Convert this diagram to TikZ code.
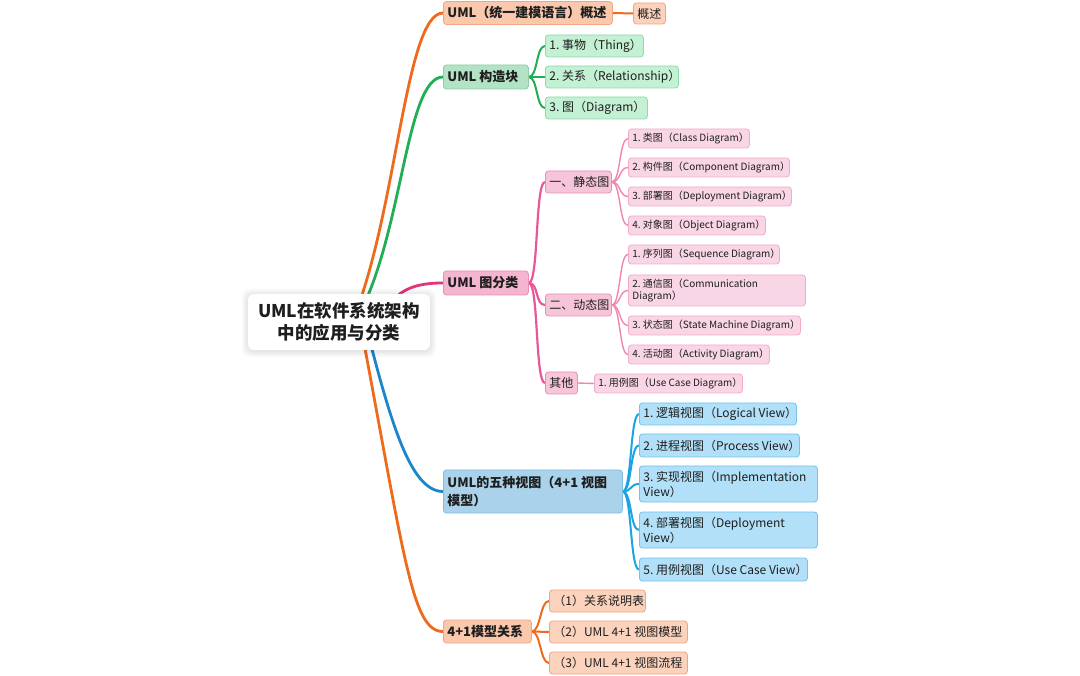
\documentclass[tikz,border=0pt]{standalone}
\usepackage{fontspec}
\setmainfont{Noto Sans CJK SC}
\definecolor{txt}{HTML}{1E1E1E}
\definecolor{orL}{HTML}{EE6A1C}
\definecolor{orF}{HTML}{F9C8AD}
\definecolor{orD}{HTML}{F2A57F}
\definecolor{orC}{HTML}{FBD2BC}
\definecolor{grL}{HTML}{22AE55}
\definecolor{grF}{HTML}{B3E2C4}
\definecolor{grD}{HTML}{8ACFA5}
\definecolor{grC}{HTML}{C4F0D4}
\definecolor{grCD}{HTML}{8EDCAD}
\definecolor{pkL}{HTML}{E2357C}
\definecolor{pk2L}{HTML}{E8579A}
\definecolor{pk3L}{HTML}{EF86B2}
\definecolor{pkF}{HTML}{F3B5CF}
\definecolor{pkD}{HTML}{EC8EB6}
\definecolor{pk2F}{HTML}{F6C5DA}
\definecolor{pk3F}{HTML}{F9D6E5}
\definecolor{pk3D}{HTML}{F3AACB}
\definecolor{blL}{HTML}{1B86CC}
\definecolor{blCL}{HTML}{1CA3E3}
\definecolor{blF}{HTML}{AAD3EB}
\definecolor{blD}{HTML}{7FBDE3}
\definecolor{blCF}{HTML}{B1E0F8}
\definecolor{blCD}{HTML}{6FC5EE}
\newcommand\mylbl[2]{\makebox[#1pt][l]{#2}}
\pgfdeclarelayer{bgl}
\pgfdeclarelayer{lines}
\pgfdeclarelayer{shade}
\pgfsetlayers{bgl,lines,shade,main}
\tikzset{
  base/.style={rounded corners=3pt, line width=0.8pt, inner xsep=4pt, inner ysep=0pt, anchor=west, text=txt, align=left},
  L1/.style={base, font=\fontsize{13}{18}\selectfont\bfseries},
  ch/.style={base, font=\fontsize{12}{15}\selectfont},
  sm/.style={base, font=\fontsize{10}{12.5}\selectfont},
  rootbox/.style={rounded corners=6pt, fill=white, draw=none, minimum width=182pt, minimum height=56pt, align=center, text=txt,
    font=\fontsize{17.5}{22}\selectfont\bfseries},
  shadowstep/.style={fill=black, opacity=0.014, rounded corners=8pt},
  trunk/.style={line width=2.8pt},
  twig/.style={line width=2pt},
  leaf/.style={line width=1.4pt}
}
\begin{document}
\frenchspacing
\begin{tikzpicture}[x=1pt,y=-1pt]
\useasboundingbox (0,0) rectangle (1080,676);
\begin{pgfonlayer}{bgl}
\fill[white] (0,0) rectangle (1080,676);
\end{pgfonlayer}

% root
\node[rootbox] (root) at (339,322) {UML在软件系统架构\\中的应用与分类};
\begin{pgfonlayer}{shade}
\foreach \i in {1,...,6}
  \fill[shadowstep] ([xshift=-\i pt, yshift=-\i pt-1pt]root.south west) rectangle ([xshift=\i pt, yshift=\i pt-1pt]root.north east);
\end{pgfonlayer}

% level 1
\node[L1, fill=orF, draw=orD, minimum height=23pt] (n1) at (443,13) {\mylbl{161}{UML（统一建模语言）概述}};
\node[L1, fill=grF, draw=grD, minimum height=24pt] (n2) at (443,77) {\mylbl{77}{UML 构造块}};
\node[L1, fill=pkF, draw=pkD, minimum height=24pt] (n3) at (443,283) {\mylbl{77}{UML 图分类}};
\node[L1, fill=blF, draw=blD, minimum height=43pt] (n4) at (443,491.5) {\mylbl{171}{UML的五种视图（4+1 视图}\\\mylbl{171}{模型）}};
\node[L1, fill=orF, draw=orD, minimum height=23pt] (n5) at (443,631.5) {\mylbl{80}{4+1模型关系}};

% orange 1 child
\node[ch, fill=orC, draw=orD, minimum height=21pt] (n1a) at (633,13.5) {\mylbl{24}{概述}};

% green children
\node[ch, fill=grC, draw=grCD, minimum height=22pt] (g1) at (545,46) {\mylbl{90}{1. 事物（Thing）}};
\node[ch, fill=grC, draw=grCD, minimum height=22pt] (g2) at (545,77) {\mylbl{125}{2. 关系（Relationship）}};
\node[ch, fill=grC, draw=grCD, minimum height=22pt] (g3) at (545,108) {\mylbl{94}{3. 图（Diagram）}};

% pink level 2
\node[ch, fill=pk2F, draw=pkD, minimum height=22pt] (ps) at (545,182) {\mylbl{58}{一、静态图}};
\node[ch, fill=pk2F, draw=pkD, minimum height=22pt] (pd) at (545,305) {\mylbl{58}{二、动态图}};
\node[ch, fill=pk2F, draw=pkD, minimum height=22pt] (po) at (545,383) {\mylbl{24}{其他}};

% pink level 3
\node[sm, fill=pk3F, draw=pk3D, minimum height=19pt] (s1) at (628,138.5) {\mylbl{113}{1. 类图（Class Diagram）}};
\node[sm, fill=pk3F, draw=pk3D, minimum height=19pt] (s2) at (628,167.5) {\mylbl{153}{2. 构件图（Component Diagram）}};
\node[sm, fill=pk3F, draw=pk3D, minimum height=19pt] (s3) at (628,196.5) {\mylbl{155}{3. 部署图（Deployment Diagram）}};
\node[sm, fill=pk3F, draw=pk3D, minimum height=19pt] (s4) at (628,225.5) {\mylbl{129}{4. 对象图（Object Diagram）}};
\node[sm, fill=pk3F, draw=pk3D, minimum height=19pt] (d1) at (628,254.5) {\mylbl{143}{1. 序列图（Sequence Diagram）}};
\node[sm, fill=pk3F, draw=pk3D, minimum height=31pt] (d2) at (628,290.5) {\mylbl{169}{2. 通信图（Communication}\\\mylbl{169}{Diagram）}};
\node[sm, fill=pk3F, draw=pk3D, minimum height=19pt] (d3) at (628,325.5) {\mylbl{164}{3. 状态图（State Machine Diagram）}};
\node[sm, fill=pk3F, draw=pk3D, minimum height=19pt] (d4) at (628,354.5) {\mylbl{133}{4. 活动图（Activity Diagram）}};
\node[sm, fill=pk3F, draw=pk3D, minimum height=19pt] (o1) at (594,383.5) {\mylbl{140}{1. 用例图（Use Case Diagram）}};

% blue children
\node[ch, fill=blCF, draw=blCD, minimum height=22pt] (b1) at (639,414) {\mylbl{149}{1. 逻辑视图（Logical View）}};
\node[ch, fill=blCF, draw=blCD, minimum height=23pt] (b2) at (639,445.5) {\mylbl{152}{2. 进程视图（Process View）}};
\node[ch, fill=blCF, draw=blCD, minimum height=36pt] (b3) at (639,484) {\mylbl{170}{3. 实现视图（Implementation}\\\mylbl{170}{View）}};
\node[ch, fill=blCF, draw=blCD, minimum height=36pt] (b4) at (639,530) {\mylbl{170}{4. 部署视图（Deployment}\\\mylbl{170}{View）}};
\node[ch, fill=blCF, draw=blCD, minimum height=23pt] (b5) at (639,569.5) {\mylbl{160}{5. 用例视图（Use Case View）}};

% orange bottom children
\node[ch, fill=orC, draw=orD, minimum height=22pt] (r1) at (549,601) {\mylbl{88}{（1）关系说明表}};
\node[ch, fill=orC, draw=orD, minimum height=22pt] (r2) at (549,632) {\mylbl{130}{（2）UML 4+1 视图模型}};
\node[ch, fill=orC, draw=orD, minimum height=22pt] (r3) at (549,663) {\mylbl{130}{（3）UML 4+1 视图流程}};

% trunk start points (hidden behind the root)
\coordinate (o1s) at (352,322);
\coordinate (o2s) at (355,322);
\coordinate (o3s) at (380,318);
\coordinate (o4s) at (365,322);
\coordinate (o5s) at (360,322);

\begin{pgfonlayer}{lines}
% trunks
\draw[orL, trunk] (o1s) .. controls +(45,-107) and +(-38,0) .. (n1.west);
\draw[grL, trunk] (o2s) .. controls +(48,-82) and +(-38,0) .. (n2.west);
\draw[pkL, trunk] (o3s) .. controls +(15,-25) and +(-35,0) .. (n3.west);
\draw[blL, trunk] (o4s) .. controls +(25,98) and +(-33,0) .. (n4.west);
\draw[orL, trunk] (o5s) .. controls +(45,238) and +(-31,0) .. (n5.west);

% orange 1
\draw[orL, twig] (n1.east) -- (n1a.west);
% green
\foreach \c in {g1,g2,g3}
  \draw[grL, twig] (n2.east) .. controls +(9,0) and +(-9,0) .. (\c.west);
% pink
\foreach \c in {ps,pd,po}
  \draw[pk2L, line width=2.2pt] (n3.east) .. controls +(10,0) and +(-10,0) .. (\c.west);
\foreach \c in {s1,s2,s3,s4}
  \draw[pk3L, leaf] (ps.east) .. controls +(9,0) and +(-9,0) .. (\c.west);
\foreach \c in {d1,d2,d3,d4}
  \draw[pk3L, leaf] (pd.east) .. controls +(9,0) and +(-9,0) .. (\c.west);
\draw[pk3L, leaf] (po.east) -- (o1.west);
% blue
\foreach \c in {b1,b2,b3,b4,b5}
  \draw[blCL, twig] (n4.east) .. controls +(9,0) and +(-9,0) .. (\c.west);
% orange bottom
\foreach \c in {r1,r2,r3}
  \draw[orL, twig] (n5.east) .. controls +(9,0) and +(-9,0) .. (\c.west);
\end{pgfonlayer}
\end{tikzpicture}
\end{document}
